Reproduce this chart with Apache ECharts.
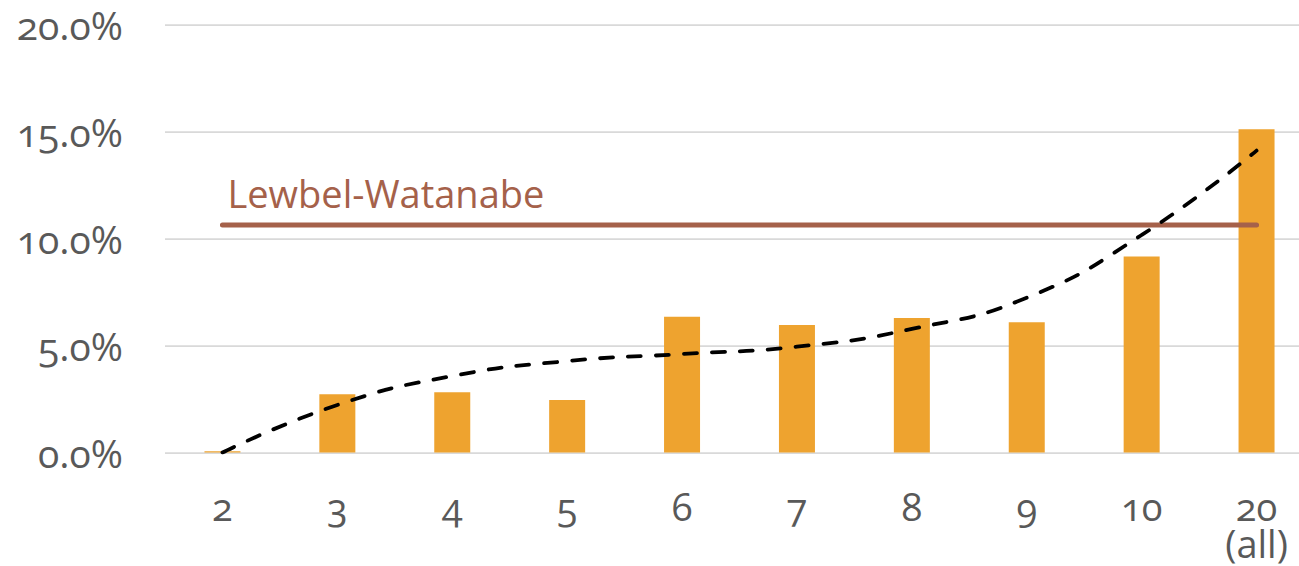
<!DOCTYPE html>
<html>
<head>
<meta charset="utf-8">
<script src="https://cdn.jsdelivr.net/npm/echarts@6/dist/echarts.min.js"></script>
<style>
  html, body { margin: 0; padding: 0; background: #ffffff; overflow: hidden; }
  /* the last category band runs past the right edge of the page */
  #chart { width: 1314px; height: 566px; }
  /* old-style figures for all chart text */
  #chart text { font-feature-settings: "onum" 1; }
</style>
</head>
<body>
<div id="chart"></div>
<script>
// Number of groups on the x axis
const categories = ['2', '3', '4', '5', '6', '7', '8', '9', '10', '20\n(all)'];
// Share per group (%)
const shares = [0.06, 2.72, 2.81, 2.45, 6.34, 5.96, 6.28, 6.08, 9.16, 15.1];
// Fitted trend (%)
const trend = [0.0, 2.22, 3.57, 4.27, 4.6, 4.94, 5.77, 7.23, 10.16, 14.1];
// Lewbel-Watanabe reference level (%)
const lewbelLevel = 10.63;
const lewbelName = 'Lewbel-Watanabe';
// Y axis ticks (%)
const yMin = 0, yMax = 20, yStep = 5;

const FONT = '"Open Sans", "Noto Sans", sans-serif';
const lewbel = categories.map(() => lewbelLevel);

const chart = echarts.init(document.getElementById('chart'), null, { renderer: 'svg' });
chart.setOption({
  animation: false,
  backgroundColor: '#ffffff',
  grid: { left: 165, right: 0, top: 24.3, bottom: 113.5, containLabel: false },
  xAxis: {
    type: 'category',
    data: categories,
    boundaryGap: true,
    axisLine: { show: false },
    axisTick: { show: false },
    axisLabel: {
      color: '#595959',
      fontFamily: FONT,
      fontSize: 38,
      lineHeight: 37,
      margin: 35,
      interval: 0
    }
  },
  yAxis: {
    type: 'value',
    min: yMin,
    max: yMax,
    interval: yStep,
    axisLine: { show: false },
    axisTick: { show: false },
    splitLine: { lineStyle: { color: '#D9D9D9', width: 1.75 } },
    axisLabel: {
      color: '#595959',
      fontFamily: FONT,
      fontSize: 39,
      margin: 42,
      formatter: v => v.toFixed(1) + '%'
    }
  },
  series: [
    {
      type: 'bar',
      data: shares,
      barWidth: 36,
      itemStyle: { color: '#EEA32F' },
      z: 2
    },
    {
      type: 'line',
      data: lewbel.map((v, i) => i === 0 ? {
        value: v,
        label: {
          show: true,
          formatter: lewbelName,
          position: 'top',
          align: 'left',
          offset: [5, -8],
          color: '#A5614A',
          fontFamily: FONT,
          fontSize: 38
        }
      } : v),
      symbol: 'circle',
      symbolSize: 0,
      showSymbol: true,
      label: { show: false },
      lineStyle: { color: '#A5614A', width: 5, cap: 'round' },
      z: 3
    },
    {
      type: 'line',
      data: trend,
      smooth: true,
      symbol: 'none',
      lineStyle: { color: '#000000', width: 3.8, type: [13, 15], cap: 'round' },
      z: 4
    }
  ]
});
</script>
</body>
</html>
